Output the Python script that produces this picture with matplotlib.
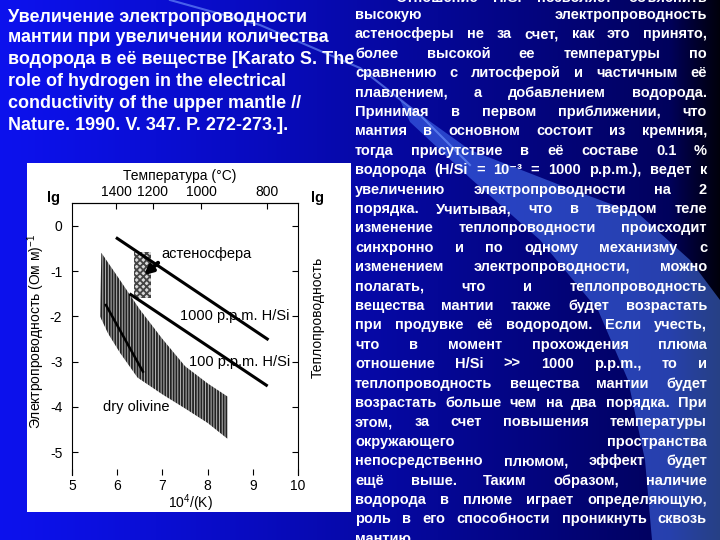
import numpy as np
import matplotlib.pyplot as plt
from matplotlib.patches import Polygon, Rectangle

plt.rcParams['font.family'] = ['Liberation Sans', 'DejaVu Sans']
plt.rcParams['mathtext.fontset'] = 'custom'
plt.rcParams['mathtext.rm'] = 'Liberation Sans'
plt.rcParams['mathtext.it'] = 'Liberation Sans'
plt.rcParams['mathtext.bf'] = 'Liberation Sans:bold'
plt.rcParams['axes.unicode_minus'] = False
plt.rcParams['hatch.linewidth'] = 1.3

# ---- chart data ----
temp_ticks_c = [1400, 1200, 1000, 800]
x_ticks = [5, 6, 7, 8, 9, 10]
y_ticks = [0, -1, -2, -3, -4, -5]

h1000_x = [6.0, 9.32]
h1000_y = [-0.28, -2.5]
h100_x = [6.3, 9.3]
h100_y = [-1.52, -3.52]

olivine_line_x = [5.75, 6.57]
olivine_line_y = [-1.75, -3.22]

band_upper_x = [5.65, 5.8, 6.06, 6.5, 7.0, 7.5, 8.0, 8.44]
band_upper_y = [-0.6, -0.82, -1.2, -1.85, -2.5, -3.1, -3.48, -3.77]
band_lower_x = [5.62, 5.8, 6.06, 6.45, 7.0, 7.5, 8.0, 8.44]
band_lower_y = [-2.0, -2.38, -2.8, -3.35, -3.72, -4.03, -4.35, -4.7]

asth_x = [6.38, 6.74]
asth_y = [-1.6, -0.58]

# ---- slide texts ----
title_lines = [
    "Увеличение электропроводности",
    "мантии при увеличении количества",
    "водорода в её веществе [Karato S. The",
    "role of hydrogen in the electrical",
    "conductivity of the upper mantle //",
    "Nature. 1990. V. 347. P. 272-273.].",
]
title_y = [17, 38, 60, 82, 104, 126]

body_lines = [
    "Отношение H/Si позволяет объяснить",
    "высокую электропроводность",
    "астеносферы не за счет, как это принято,",
    "более высокой ее температуры по",
    "сравнению с литосферой и частичным её",
    "плавлением, а добавлением водорода.",
    "Принимая в первом приближении, что",
    "мантия в основном состоит из кремния,",
    "тогда присутствие в её составе 0.1 %",
    "водорода (H/Si = 10⁻³ = 1000 p.p.m.), ведет к",
    "увеличению электропроводности на 2",
    "порядка. Учитывая, что в твердом теле",
    "изменение теплопроводности происходит",
    "синхронно и по одному механизму с",
    "изменением электропроводности, можно",
    "полагать, что и теплопроводность",
    "вещества мантии также будет возрастать",
    "при продувке её водородом. Если учесть,",
    "что в момент прохождения плюма",
    "отношение H/Si >> 1000 p.p.m., то и",
    "теплопроводность вещества мантии будет",
    "возрастать больше чем на два порядка. При",
    "этом, за счет повышения температуры",
    "окружающего пространства",
    "непосредственно плюмом, эффект будет",
    "ещё выше. Таким образом, наличие",
    "водорода в плюме играет определяющую,",
    "роль в его способности проникнуть сквозь",
    "мантию.",
]

fig = plt.figure(figsize=(7.2, 5.4), dpi=100)

# background
bg = fig.add_axes([0, 0, 1, 1])
bg.set_xlim(0, 720)
bg.set_ylim(540, 0)
bg.axis('off')

X, Y = np.meshgrid(np.linspace(0, 1, 720), np.linspace(0, 1, 540))
blue = 0.93 - 0.62 * X ** 1.2
blue = blue * (1 - 0.85 * np.clip((X - 0.93) / 0.07, 0, 1))
img = np.dstack([0.05 * (1 - X), 0.07 * (1 - X), blue])
bg.imshow(img, extent=(0, 720, 540, 0), aspect='auto', zorder=0)

swoosh = [(400, 100), (470, 150), (560, 185), (640, 215), (690, 260), (720, 300),
          (720, 540), (652, 540), (645, 460), (628, 380), (598, 310), (540, 240),
          (470, 178), (410, 122)]
bg.add_patch(Polygon(swoosh, closed=True, facecolor=(0.3, 0.5, 1.0), alpha=0.5,
                     edgecolor='none', zorder=1))
bg.plot([170, 260, 360, 420, 470], [0, 25, 68, 115, 165], color=(0.45, 0.6, 1.0),
        lw=1.5, alpha=0.6, zorder=1)

bg.add_patch(Rectangle((27, 163), 324, 349, facecolor='white', edgecolor='none', zorder=2))

for line, y in zip(title_lines, title_y):
    bg.text(8, y, line, color='white', fontsize=13, fontweight='bold',
            ha='left', va='center', zorder=3)

renderer = fig.canvas.get_renderer()


def justify(line, y, x0, x1, size, last=False):
    words = line.split()
    arts = [bg.text(0, y, w, color='white', fontsize=size, fontweight='bold',
                    ha='left', va='center', zorder=3) for w in words]
    widths = [a.get_window_extent(renderer).width for a in arts]
    total = sum(widths)
    if last or len(words) == 1:
        gap = size * 0.45
    else:
        gap = (x1 - x0 - total) / (len(words) - 1)
    x = x0
    for a, w in zip(arts, widths):
        a.set_x(x)
        x += w + gap


for i, line in enumerate(body_lines):
    y = -2 if i == 0 else 15 + 19.4 * (i - 1)
    x0 = 395 if i == 0 else 355
    justify(line, y, x0, 707, 10.5, last=(i == len(body_lines) - 1))

# chart labels outside axes
bg.text(53, 198, 'lg', fontsize=10.5, fontweight='bold', ha='center', va='center', zorder=3)
bg.text(318, 198, 'lg', fontsize=10.5, fontweight='bold', ha='center', va='center', zorder=3)
bg.text(180, 176, 'Температура (°C)', fontsize=10, ha='center', va='center', zorder=3)
bg.text(190, 503, '10$^4$/(K)', fontsize=10, ha='center', va='center', zorder=3)
bg.text(36, 331, 'Электропроводность (Ом м)$^{-1}$', fontsize=10, rotation=90,
        ha='center', va='center', zorder=3)
bg.text(318, 317, 'Теплопроводность', fontsize=10, rotation=90,
        ha='center', va='center', zorder=3)

# chart
ax = fig.add_axes([72 / 720, 1 - 475 / 540, 226 / 720, 272 / 540])
ax.set_facecolor('white')
ax.set_xlim(5, 10)
ax.set_ylim(-5.5, 0.5)
ax.set_xticks(x_ticks)
ax.set_yticks(y_ticks)
ax.spines['bottom'].set_visible(False)
ax.tick_params(direction='in', length=4, labelsize=10, right=True, labelright=False,
               top=False)
ax.tick_params(axis='y', pad=7)
ax.tick_params(axis='x', pad=3)

secx = ax.secondary_xaxis('top', functions=(lambda x: 1e4 / np.maximum(x, 1e-9) - 273.15,
                                            lambda t: 1e4 / np.maximum(t + 273.15, 1e-9)))
secx.set_xticks(temp_ticks_c)
secx.tick_params(direction='in', length=4, labelsize=10, pad=3)

band = list(zip(band_upper_x, band_upper_y)) + list(zip(band_lower_x[::-1], band_lower_y[::-1]))
ax.add_patch(Polygon(band, closed=True, facecolor='#b8b8b8', edgecolor='#222222',
                     hatch='||||||', linewidth=0))
ax.plot(olivine_line_x, olivine_line_y, color='black', lw=1.8)

ax.add_patch(Rectangle((asth_x[0], asth_y[0]), asth_x[1] - asth_x[0], asth_y[1] - asth_y[0],
                       facecolor='#d8d8d8', edgecolor='#444444', hatch='xxxxx', linewidth=0))

ax.plot(h1000_x, h1000_y, color='black', lw=2.2)
ax.plot(h100_x, h100_y, color='black', lw=2.2)

ax.text(6.98, -0.62, 'астеносфера', fontsize=10.5, ha='left', va='center')
ax.annotate('', xy=(6.55, -1.13), xytext=(6.95, -0.78),
            arrowprops=dict(arrowstyle='-|>', lw=3, color='black', mutation_scale=12))
ax.text(9.82, -2.0, '1000 p.p.m. H/Si', fontsize=10.5, ha='right', va='center')
ax.text(9.82, -3.0, '100 p.p.m. H/Si', fontsize=10.5, ha='right', va='center')
ax.text(5.68, -4.0, 'dry olivine', fontsize=10.5, ha='left', va='center')

fig.savefig('out.png', dpi=100)
